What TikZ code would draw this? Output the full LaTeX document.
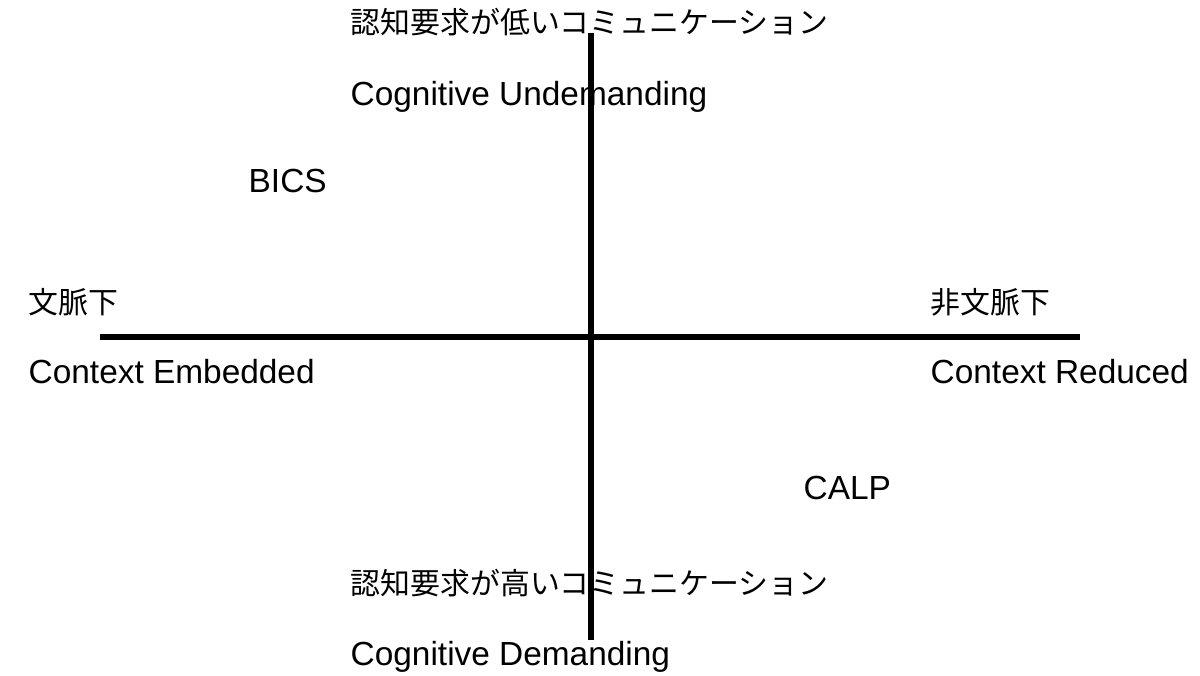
\documentclass[tikz,border=0pt]{standalone}
\usepackage{fontspec}
\usepackage{tikz}
\usetikzlibrary{positioning}
\setmainfont{Liberation Sans}
\newfontfamily\jpfont{Noto Sans CJK JP}

\tikzset{
  axisline/.style={draw=black, line width=1.7pt},
  entext/.style={anchor=base west, inner sep=0pt, font=\fontsize{9.5pt}{11pt}\selectfont},
  jptext/.style={anchor=base west, inner sep=0pt, font=\jpfont\fontsize{8.5pt}{10pt}\selectfont}
}

\begin{document}
\begin{tikzpicture}[x=0.01cm, y=-0.01cm]
      \useasboundingbox (0,0) rectangle (1200,675);

      % axes
      \coordinate (top) at (591,33);
      \coordinate (bottom) at (591,640);
      \coordinate (left) at (100,337);
      \coordinate (right) at (1080,337);
      \draw[axisline] (left) -- (right);
      \draw[axisline] (top) -- (bottom);

      % vertical axis labels
      \node[jptext] (lowjp) at (350,33) {認知要求が低いコミュニケーション};
      \node[entext] (lowen) at (350,105) {Cognitive Undemanding};
      \node[jptext] (highjp) at (350,594) {認知要求が高いコミュニケーション};
      \node[entext] (highen) at (350,665) {Cognitive Demanding};

      % horizontal axis labels
      \node[jptext] (embjp) at (28,313) {文脈下};
      \node[entext] (emben) at (28,383) {Context Embedded};
      \node[jptext] (redjp) at (930,313) {非文脈下};
      \node[entext] (reden) at (930,383) {Context Reduced};

      % quadrants
      \node[entext] (bics) at (248,192) {BICS};
      \node[entext] (calp) at (803,499) {CALP};
    \end{tikzpicture}
\end{document}
